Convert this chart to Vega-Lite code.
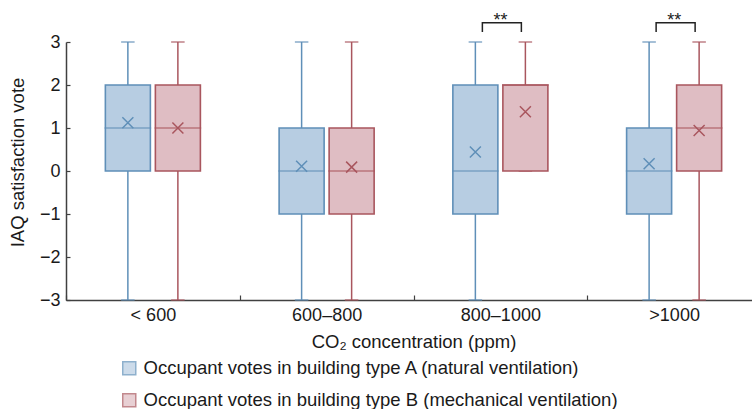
{
  "$schema": "https://vega.github.io/schema/vega-lite/v6.json",
  "width": 686,
  "height": 258,
  "autosize": {"type": "none"},
  "padding": {"left": 66, "top": 42, "right": 0, "bottom": 109},
  "config": {
    "view": {"stroke": null},
    "font": "Liberation Sans",
    "axis": {
      "domainColor": "#404040",
      "domainWidth": 1.5,
      "tickColor": "#404040",
      "tickWidth": 1.2,
      "labelColor": "#1a1a1a",
      "titleColor": "#1a1a1a",
      "labelFontSize": 18,
      "titleFontSize": 18.5,
      "titleFontWeight": "normal",
      "grid": false
    },
    "legend": {
      "title": null,
      "orient": "none",
      "legendX": 54,
      "legendY": 317,
      "direction": "vertical",
      "padding": 0,
      "symbolType": "square",
      "symbolSize": 169,
      "symbolStrokeWidth": 1.5,
      "labelFontSize": 18.5,
      "labelColor": "#1a1a1a",
      "labelOffset": 5,
      "rowPadding": 12,
      "labelLimit": 700
    }
  },
  "datasets": {
    "stats": [
      {"co2": "< 600", "bt": "A", "min": -3, "q1": 0, "median": 1, "q3": 2, "max": 3, "mean": 1.12},
      {"co2": "< 600", "bt": "B", "min": -3, "q1": 0, "median": 1, "q3": 2, "max": 3, "mean": 1.0},
      {"co2": "600–800", "bt": "A", "min": -3, "q1": -1, "median": 0, "q3": 1, "max": 3, "mean": 0.11},
      {"co2": "600–800", "bt": "B", "min": -3, "q1": -1, "median": 0, "q3": 1, "max": 3, "mean": 0.09},
      {"co2": "800–1000", "bt": "A", "min": -3, "q1": -1, "median": 0, "q3": 2, "max": 3, "mean": 0.44},
      {"co2": "800–1000", "bt": "B", "min": 0, "q1": 0, "median": 2, "q3": 2, "max": 3, "mean": 1.38},
      {"co2": ">1000", "bt": "A", "min": -3, "q1": -1, "median": 0, "q3": 1, "max": 3, "mean": 0.17},
      {"co2": ">1000", "bt": "B", "min": -3, "q1": 0, "median": 1, "q3": 2, "max": 3, "mean": 0.94}
    ],
    "brackets": [
      {"co2": "800–1000", "side": "L", "y": 3.23, "ord": 1},
      {"co2": "800–1000", "side": "L", "y": 3.447, "ord": 2},
      {"co2": "800–1000", "side": "R", "y": 3.447, "ord": 3},
      {"co2": "800–1000", "side": "R", "y": 3.23, "ord": 4},
      {"co2": ">1000", "side": "L", "y": 3.23, "ord": 1},
      {"co2": ">1000", "side": "L", "y": 3.447, "ord": 2},
      {"co2": ">1000", "side": "R", "y": 3.447, "ord": 3},
      {"co2": ">1000", "side": "R", "y": 3.23, "ord": 4}
    ],
    "stars": [
      {"co2": "800–1000", "label": "**", "y": 3.37},
      {"co2": ">1000", "label": "**", "y": 3.37}
    ]
  },
  "encoding": {
    "x": {
      "field": "co2",
      "type": "nominal",
      "scale": {"domain": ["< 600", "600–800", "800–1000", ">1000"], "range": [0, 695], "paddingInner": 0, "paddingOuter": 0},
      "axis": {
        "title": "CO₂ concentration (ppm)",
        "labelAngle": 0,
        "tickBand": "extent",
        "tickSize": -5,
        "labelPadding": 11,
        "titlePadding": 8
      }
    }
  },
  "layer": [
    {
      "data": {"name": "stats"},
      "encoding": {
        "xOffset": {"field": "bt", "type": "nominal", "scale": {"domain": ["A", "B"], "paddingInner": 0.1, "paddingOuter": 0.787}}
      },
      "layer": [
        {
          "mark": {"type": "rule", "strokeWidth": 1.5},
          "encoding": {
            "y": {"field": "min", "type": "quantitative", "scale": {"domain": [-3, 3], "nice": false, "zero": false},
              "axis": {"title": "IAQ satisfaction vote", "values": [-3, -2, -1, 0, 1, 2, 3], "tickSize": -4, "labelPadding": 10, "titlePadding": 12, "titleY": 120}},
            "y2": {"field": "max"},
            "stroke": {"field": "bt", "type": "nominal", "scale": {"domain": ["A", "B"], "range": ["#5f8fb8", "#a9565e"]}}
          }
        },
        {
          "mark": {"type": "tick", "orient": "horizontal", "size": 12, "thickness": 0.1, "filled": false, "strokeWidth": 1.5},
          "encoding": {
            "y": {"field": "max", "type": "quantitative", "scale": {"domain": [-3, 3]}},
            "stroke": {"field": "bt", "type": "nominal"}
          }
        },
        {
          "mark": {"type": "tick", "orient": "horizontal", "size": 12, "thickness": 0.1, "filled": false, "strokeWidth": 1.5},
          "encoding": {
            "y": {"field": "min", "type": "quantitative", "scale": {"domain": [-3, 3]}},
            "stroke": {"field": "bt", "type": "nominal"}
          }
        },
        {
          "mark": {"type": "bar", "strokeWidth": 1.6},
          "encoding": {
            "y": {"field": "q1", "type": "quantitative", "scale": {"domain": [-3, 3]}},
            "y2": {"field": "q3"},
            "fill": {"field": "bt", "type": "nominal", "scale": {"domain": ["A", "B"], "range": ["#b7cde2", "#dfbdc3"]},
              "legend": {"labelExpr": "datum.value == 'A' ? 'Occupant votes in building type A (natural ventilation)' : 'Occupant votes in building type B (mechanical ventilation)'"}},
            "stroke": {"field": "bt", "type": "nominal",
              "legend": {"labelExpr": "datum.value == 'A' ? 'Occupant votes in building type A (natural ventilation)' : 'Occupant votes in building type B (mechanical ventilation)'"}}
          }
        },
        {
          "mark": {"type": "tick", "orient": "horizontal", "size": 45, "thickness": 0.1, "filled": false, "strokeWidth": 1.6},
          "encoding": {
            "y": {"field": "median", "type": "quantitative", "scale": {"domain": [-3, 3]}},
            "stroke": {"field": "bt", "type": "nominal"}
          }
        },
        {
          "mark": {"type": "point", "shape": "M-1,-1L1,1M-1,1L1,-1", "filled": false, "size": 121, "strokeWidth": 1.5, "opacity": 1},
          "encoding": {
            "y": {"field": "mean", "type": "quantitative", "scale": {"domain": [-3, 3]}},
            "stroke": {"field": "bt", "type": "nominal"}
          }
        }
      ]
    },
    {
      "data": {"name": "brackets"},
      "mark": {"type": "line", "color": "#222222", "strokeWidth": 1.5},
      "encoding": {
        "xOffset": {"field": "side", "type": "nominal", "scale": {"domain": ["a", "L", "R", "b"], "paddingInner": 1, "paddingOuter": 0.7276, "align": 0.5264}},
        "y": {"field": "y", "type": "quantitative", "scale": {"domain": [-3, 3]}},
        "detail": {"field": "co2"},
        "order": {"field": "ord", "type": "quantitative"}
      }
    },
    {
      "data": {"name": "stars"},
      "mark": {"type": "text", "fontSize": 18, "baseline": "alphabetic", "color": "#222222"},
      "encoding": {
        "y": {"field": "y", "type": "quantitative", "scale": {"domain": [-3, 3]}},
        "text": {"field": "label"}
      }
    }
  ],
  "resolve": {"scale": {"xOffset": "independent"}}
}
